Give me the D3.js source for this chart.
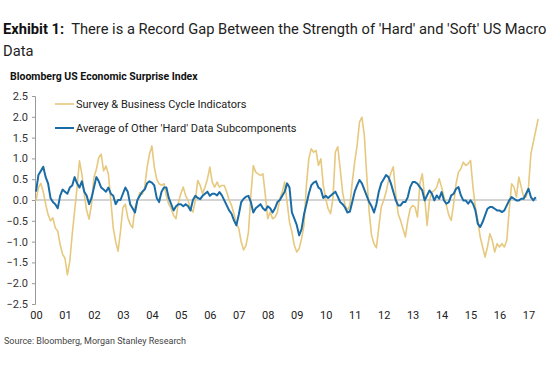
<!DOCTYPE html>
<html>
<head>
<meta charset="utf-8">
<script src="https://cdn.jsdelivr.net/npm/d3@7/dist/d3.min.js"></script>
<style>
  html, body { margin: 0; padding: 0; background: #fff; }
  svg { display: block; font-family: Roboto, "Liberation Sans", Arial, sans-serif; }
</style>
</head>
<body>
<div id="chart"></div>
<script>
// monthly readings, Jan 2000 .. Apr 2017
const startYear = 2000;
const survey = [
  -0.02, 0.3, 0.4, 0.2, -0.1, -0.35, -0.5, -0.43, -0.67, -0.75, -1.07, -1.3,
  -1.4, -1.8, -1.47, -0.83, -0.26, 0.3, 0.94, 0.62, 0.14, -0.26, -0.46, -0.1,
  0.54, 0.74, 1.02, 1.1, 0.7, 0.82, 0.62, -0.02, -0.67, -1.0, -1.23, -0.75,
  -0.18, -0.1, -0.42, -0.58, -0.67, -0.18, -0.02, 0.18, 0.14, 0.3, 0.78, 1.1,
  1.3, 0.79, 0.5, 0.39, 0.35, 0.39, 0.1, -0.1, -0.21, -0.37, -0.45, -0.05,
  0.15, 0.31, 0.1, -0.01, -0.21, -0.29, -0.01, 0.47, 0.35, 0.15, 0.31, 0.5,
  0.79, 0.43, 0.31, 0.43, 0.31, 0.35, 0.35, 0.19, 0.0, -0.13, -0.33, -0.57,
  -0.69, -1.01, -1.2, -1.09, -0.77, 0.11, 0.83, 0.67, 0.63, 0.59, 0.63, 0.11,
  -0.45, -0.29, -0.45, -0.41, -0.29, 0.03, 0.19, 0.43, -0.05, -0.53, -0.77, -1.09,
  -1.25, -1.17, -0.93, -0.61, 0.35, 0.99, 1.23, 1.15, 1.19, 0.83, 0.99, 0.35,
  0.03, -0.21, -0.33, 0.03, 1.15, 1.28, 0.75, 0.19, -0.13, -0.25, -0.13, 0.43,
  0.91, 1.31, 1.87, 1.99, 1.55, 0.59, -0.29, -0.85, -1.05, -1.15, -0.65, -0.17,
  -0.01, 0.19, 0.47, 0.65, 0.8, 0.15, -0.33, -0.49, -0.69, -0.89, -0.49, -0.21,
  -0.13, -0.17, -0.41, 0.39, 0.63, 0.07, -0.61, -0.01, 0.19, 0.23, 0.31, 0.51,
  0.31, 0.07, -0.13, -0.37, -0.49, -0.09, 0.39, 0.67, 0.75, 0.91, 0.83, 0.87,
  0.95, 0.31, -0.17, -0.49, -0.89, -1.13, -1.37, -1.13, -0.81, -0.97, -1.25, -1.05,
  -1.13, -1.05, -1.13, -0.97, -0.25, 0.39, 0.31, 0.07, 0.55, 0.31, 0.07, 0.07,
  0.31, 1.11, 1.39, 1.67, 1.95
];
const hard = [
  0.2, 0.6, 0.7, 0.8, 0.55, 0.4, 0.05, -0.05, -0.1, -0.2, 0.1, 0.25,
  0.2, 0.15, 0.3, 0.35, 0.55, 0.4, 0.3, 0.45, 0.2, 0.1, -0.1, 0.05,
  0.3, 0.55, 0.45, 0.3, 0.25, 0.2, 0.3, 0.15, 0.1, -0.1, 0.0, 0.0,
  0.15, 0.3, 0.2, -0.1, -0.2, -0.3, 0.0, 0.1, 0.2, 0.25, 0.4, 0.45,
  0.42, 0.35, 0.05, -0.05, 0.2, 0.3, 0.3, 0.05, -0.1, -0.25, -0.15, -0.1,
  -0.1, -0.15, -0.1, -0.15, -0.25, 0.0, 0.1, 0.05, 0.02, 0.1, 0.15, 0.2,
  0.1, 0.15, 0.15, 0.11, 0.19, 0.11, -0.01, -0.13, -0.25, -0.33, -0.49, -0.61,
  -0.35, -0.05, 0.03, 0.08, 0.1, -0.05, -0.3, -0.2, -0.15, -0.1, -0.2, -0.25,
  -0.15, -0.2, -0.3, -0.2, -0.05, 0.0, 0.1, 0.2, 0.4, 0.3, -0.3, -0.45,
  -0.6, -0.85, -0.7, -0.35, -0.1, 0.15, 0.35, 0.42, 0.45, 0.3, 0.25, 0.05,
  0.1, 0.05, 0.1, 0.15, 0.2, 0.08, -0.05, -0.1, -0.18, -0.3, -0.28, -0.05,
  0.2, 0.35, 0.48, 0.4, 0.25, 0.1, -0.05, -0.15, -0.3, -0.1, 0.2, 0.4,
  0.5, 0.6, 0.55, 0.4, 0.2, 0.0, -0.13, -0.13, -0.05, -0.05, 0.07, 0.31,
  0.43, 0.43, 0.39, 0.31, 0.23, -0.01, 0.11, 0.23, 0.15, -0.01, 0.11, 0.03,
  0.19, -0.01, -0.09, -0.05, 0.11, 0.15, 0.27, 0.31, 0.11, -0.01, -0.01, -0.09,
  -0.01, -0.09, -0.25, -0.57, -0.65, -0.53, -0.37, -0.21, -0.17, -0.17, -0.21, -0.25,
  -0.25, -0.29, -0.25, -0.13, -0.01, 0.07, 0.03, -0.01, -0.01, 0.03, 0.03, 0.15,
  0.27, 0.07, -0.01, 0.07
];
const yTicks = [2.5, 2.0, 1.5, 1.0, 0.5, 0.0, -0.5, -1.0, -1.5, -2.0, -2.5];
const xTickLabels = ["00","01","02","03","04","05","06","07","08","09","10","11","12","13","14","15","16","17"];
const seriesNames = ["Survey & Business Cycle Indicators", "Average of Other 'Hard' Data Subcomponents"];
const colors = ["#e6c97f", "#1a6ca6"];

const width = 553, height = 369;
const svg = d3.select("#chart").append("svg")
  .attr("width", width).attr("height", height)
  .attr("viewBox", [0, 0, width, height]);

const x = d3.scaleLinear([2000, 2017], [36, 528.5]);
const y = d3.scaleLinear([-2.5, 2.5], [304, 96]);
const t = i => startYear + i / 12;

// title, shrunk to fit the width
const title1 = svg.append("text").attr("x", 3).attr("y", 34)
  .attr("font-size", 16).attr("fill", "#222");
title1.append("tspan").attr("font-weight", "bold").attr("fill", "#111").text("Exhibit 1:");
title1.append("tspan").text("\u00a0 There is a Record Gap Between the Strength of 'Hard' and 'Soft' US Macro");
const bw = title1.node().getBBox().width;
const titleSize = Math.min(17, 16 * 544 / bw);
title1.attr("font-size", titleSize);
svg.append("text").attr("x", 3).attr("y", 56)
  .attr("font-size", titleSize).attr("fill", "#222").text("Data");

svg.append("text").attr("x", 10).attr("y", 80)
  .attr("font-size", 10.5).attr("font-weight", "bold").attr("fill", "#111")
  .text("Bloomberg US Economic Surprise Index");

// y axis
const yAxis = svg.append("g").attr("transform", "translate(35,0)")
  .call(d3.axisLeft(y).tickValues(yTicks).tickFormat(d3.format(".1f")).tickSize(3).tickPadding(4));
yAxis.select(".domain").attr("stroke", "#999");
yAxis.selectAll(".tick line").attr("stroke", "#999");
yAxis.selectAll(".tick text").attr("font-size", 11).attr("fill", "#333")
  .attr("font-family", "Roboto, 'Liberation Sans', Arial, sans-serif");

// x labels
const xAxis = svg.append("g").attr("transform", "translate(0,305)")
  .call(d3.axisBottom(x).tickValues(d3.range(2000, 2018)).tickFormat((d, i) => xTickLabels[i]).tickSize(0).tickPadding(6));
xAxis.select(".domain").remove();
xAxis.selectAll(".tick text").attr("font-size", 11).attr("fill", "#222")
  .attr("font-family", "Roboto, 'Liberation Sans', Arial, sans-serif");

// zero line
svg.append("line").attr("x1", 35).attr("x2", 537)
  .attr("y1", y(0)).attr("y2", y(0))
  .attr("stroke", "#aaa").attr("stroke-width", 1);

const line = d3.line().x((d, i) => x(t(i))).y(d => y(d));
svg.append("path").datum(survey).attr("d", line)
  .attr("fill", "none").attr("stroke", colors[0]).attr("stroke-width", 1.6)
  .attr("stroke-linejoin", "round");
svg.append("path").datum(hard).attr("d", line)
  .attr("fill", "none").attr("stroke", colors[1]).attr("stroke-width", 2)
  .attr("stroke-linejoin", "round");

// legend
const leg = svg.append("g").selectAll("g").data(seriesNames).join("g")
  .attr("transform", (d, i) => `translate(55,${104 + i * 24})`);
leg.append("line").attr("x1", 0).attr("x2", 19)
  .attr("stroke", (d, i) => colors[i]).attr("stroke-width", (d, i) => i ? 2 : 1.6);
leg.append("text").attr("x", 21).attr("y", 4)
  .attr("font-size", 11).attr("fill", "#222").text(d => d);

svg.append("text").attr("x", 4).attr("y", 344)
  .attr("font-size", 9).attr("fill", "#444")
  .text("Source: Bloomberg, Morgan Stanley Research");
</script>
</body>
</html>
